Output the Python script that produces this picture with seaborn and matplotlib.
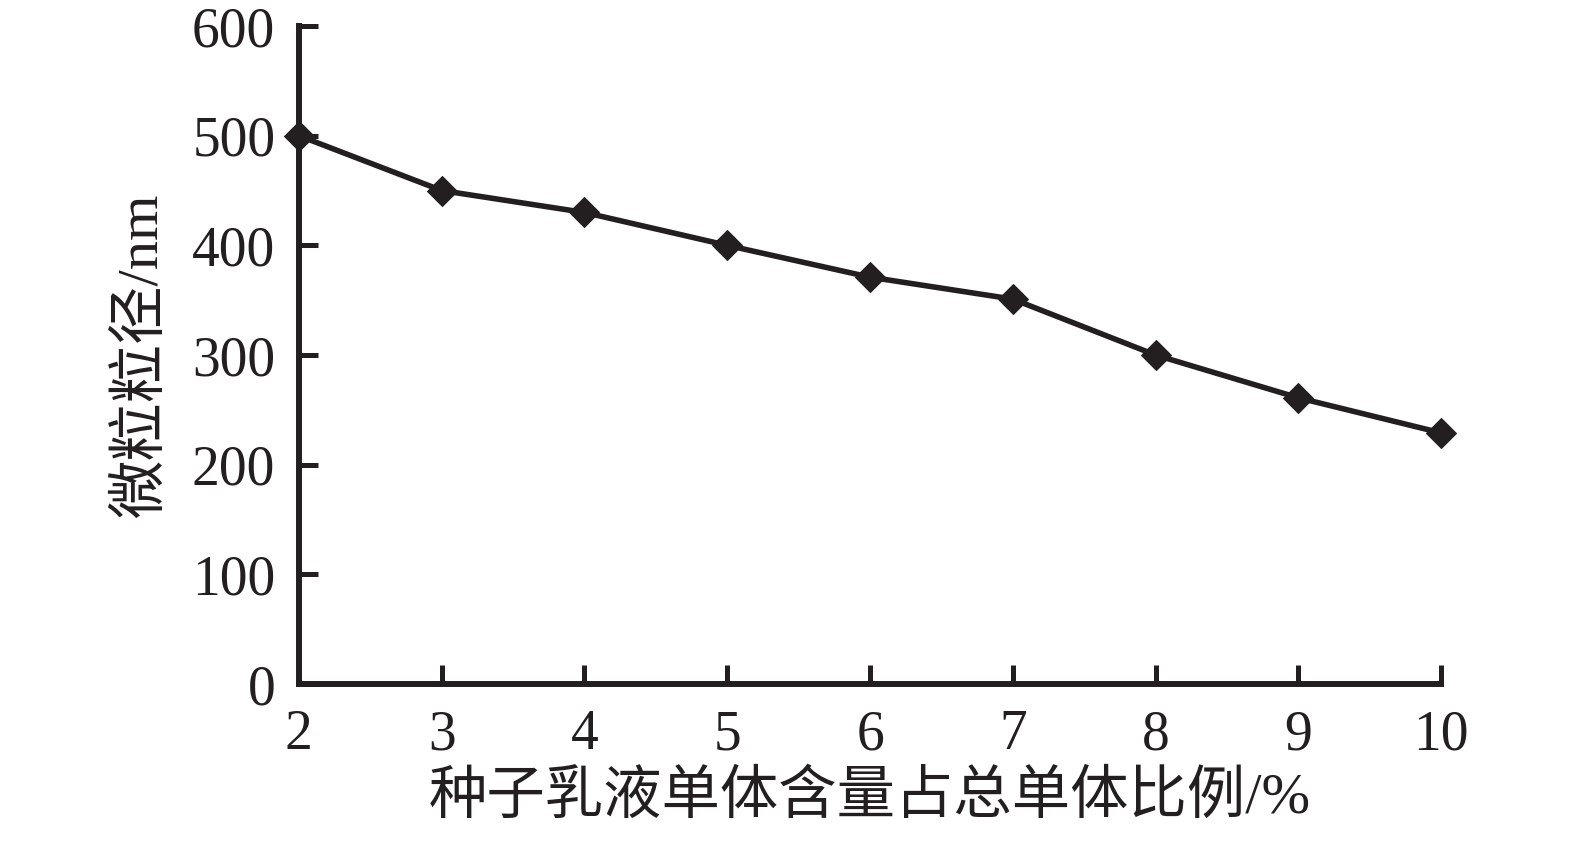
import matplotlib
matplotlib.use("Agg")
import matplotlib.pyplot as plt
import seaborn as sns
import pandas as pd

# 种子乳液单体含量占总单体比例 (%) vs 微粒粒径 (nm)
ratio = [2, 3, 4, 5, 6, 7, 8, 9, 10]
size_nm = [500, 450, 430, 400, 371, 351, 300, 261, 229]
y_ticks = [0, 100, 200, 300, 400, 500, 600]

df = pd.DataFrame({"ratio": ratio, "size": size_nm})

sns.set_style("ticks")
plt.rcParams["font.family"] = ["Liberation Serif", "Noto Sans CJK SC", "DejaVu Sans"]

fig = plt.figure(figsize=(15.75, 8.43), dpi=100)
ax = fig.add_axes([0.1898, 0.1886, 0.7252, 0.7805])

sns.lineplot(data=df, x="ratio", y="size", ax=ax, color="#231f20",
             linewidth=4, marker="D", markersize=15, clip_on=False,
             markeredgecolor="#231f20", markerfacecolor="#231f20")

ax.set_xlim(2, 10)
ax.set_ylim(0, 600)
ax.set_xticks(ratio)
ax.set_yticks(y_ticks)

for side in ["top", "right"]:
    ax.spines[side].set_visible(False)
for side in ["left", "bottom"]:
    ax.spines[side].set_linewidth(4.3)
    ax.spines[side].set_color("#231f20")
    ax.spines[side].set_capstyle("projecting")

ax.tick_params(direction="in", length=14, width=3.6, color="#231f20",
               labelsize=40, labelcolor="#231f20")
ax.tick_params(axis="x", pad=18)
ax.tick_params(axis="y", pad=17)

ax.set_xlabel("种子乳液单体含量占总单体比例/%", fontsize=42, color="#231f20", labelpad=7)
ax.set_ylabel("微粒粒径/nm", fontsize=42, color="#231f20", labelpad=17)

fig.savefig("out.png", dpi=100)
